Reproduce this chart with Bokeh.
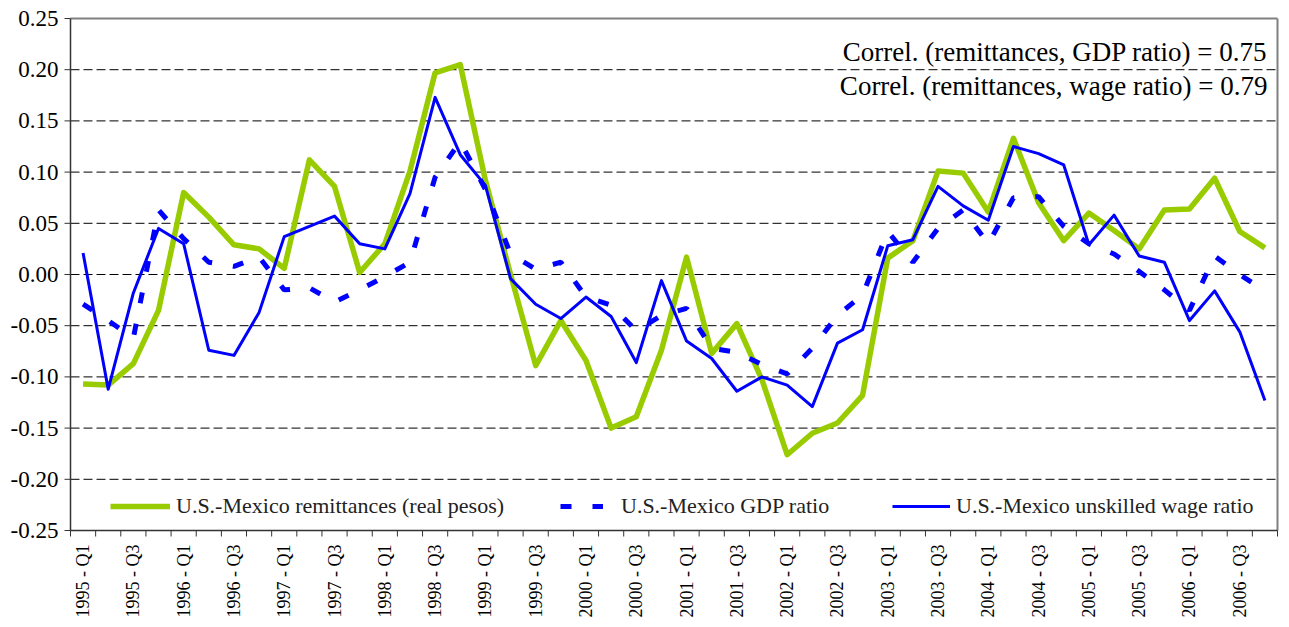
import math
from bokeh.plotting import figure
from bokeh.models import Range1d, Legend, LegendItem, Label
from bokeh.embed import file_html
from bokeh.resources import INLINE

quarters = [
    "1995 - Q1", "1995 - Q2", "1995 - Q3", "1995 - Q4",
    "1996 - Q1", "1996 - Q2", "1996 - Q3", "1996 - Q4",
    "1997 - Q1", "1997 - Q2", "1997 - Q3", "1997 - Q4",
    "1998 - Q1", "1998 - Q2", "1998 - Q3", "1998 - Q4",
    "1999 - Q1", "1999 - Q2", "1999 - Q3", "1999 - Q4",
    "2000 - Q1", "2000 - Q2", "2000 - Q3", "2000 - Q4",
    "2001 - Q1", "2001 - Q2", "2001 - Q3", "2001 - Q4",
    "2002 - Q1", "2002 - Q2", "2002 - Q3", "2002 - Q4",
    "2003 - Q1", "2003 - Q2", "2003 - Q3", "2003 - Q4",
    "2004 - Q1", "2004 - Q2", "2004 - Q3", "2004 - Q4",
    "2005 - Q1", "2005 - Q2", "2005 - Q3", "2005 - Q4",
    "2006 - Q1", "2006 - Q2", "2006 - Q3", "2006 - Q4",
]

remittances = [
    -0.107, -0.108, -0.087, -0.035, 0.080, 0.056, 0.029, 0.025,
    0.006, 0.112, 0.086, 0.002, 0.030, 0.101, 0.197, 0.205,
    0.092, 0.000, -0.089, -0.045, -0.084, -0.150, -0.139, -0.074,
    0.017, -0.077, -0.048, -0.103, -0.176, -0.155, -0.145, -0.118,
    0.016, 0.033, 0.101, 0.099, 0.061, 0.133, 0.070, 0.033,
    0.060, 0.043, 0.025, 0.063, 0.064, 0.094, 0.042, 0.026,
]

gdp_ratio = [
    -0.029, -0.045, -0.062, 0.063, 0.035, 0.012, 0.008, 0.017,
    -0.015, -0.013, -0.027, -0.015, -0.002, 0.012, 0.095, 0.130,
    0.083, 0.020, 0.005, 0.012, -0.022, -0.030, -0.055, -0.040,
    -0.033, -0.072, -0.076, -0.088, -0.097, -0.072, -0.040, -0.020,
    0.042, 0.012, 0.045, 0.063, 0.030, 0.075, 0.076, 0.047,
    0.030, 0.020, 0.003, -0.015, -0.035, 0.018, 0.000, -0.016,
]

wage_ratio = [
    0.021, -0.112, -0.018, 0.045, 0.030, -0.074, -0.079, -0.037,
    0.037, 0.047, 0.057, 0.030, 0.025, 0.079, 0.173, 0.117,
    0.087, -0.004, -0.029, -0.043, -0.022, -0.041, -0.086, -0.006,
    -0.065, -0.082, -0.114, -0.100, -0.108, -0.129, -0.067, -0.054,
    0.028, 0.034, 0.086, 0.067, 0.053, 0.125, 0.118, 0.107,
    0.029, 0.058, 0.018, 0.012, -0.045, -0.016, -0.056, -0.123,
]

y_ticks = [-0.25, -0.20, -0.15, -0.10, -0.05, 0.00, 0.05, 0.10, 0.15, 0.20, 0.25]
y_tick_labels = ["-0.25", "-0.20", "-0.15", "-0.10", "-0.05", "0.00",
                 "0.05", "0.10", "0.15", "0.20", "0.25"]

series_names = [
    "U.S.-Mexico remittances (real pesos)",
    "U.S.-Mexico GDP ratio",
    "U.S.-Mexico unskilled wage ratio",
]
correl_texts = [
    "Correl. (remittances, GDP ratio) = 0.75",
    "Correl. (remittances, wage ratio) = 0.79",
]

SERIF = "Liberation Serif"

# ---- layout (pixels) ----
W, H = 1281, 619
PL, PR, PT, PB = 70, 1277, 18, 530          # plot-area edges on the canvas
n = len(quarters)
x_lo, x_hi = -0.5, n - 0.5                   # category extent
y_lo, y_hi = y_ticks[0], y_ticks[-1]
ppx = (PR - PL) / (x_hi - x_lo)              # px per x unit
ppy = (PB - PT) / (y_hi - y_lo)              # px per y unit

p = figure(
    width=W, height=H,
    output_backend="svg", toolbar_location=None,
    x_range=Range1d(x_lo - PL / ppx, x_hi + (W - PR) / ppx),
    y_range=Range1d(y_lo - (H - PB) / ppy, y_hi + PT / ppy),
    x_axis_location=None, y_axis_location=None,
    min_border=0, min_border_left=0, min_border_right=0,
    min_border_top=0, min_border_bottom=0,
)
p.grid.visible = False
p.background_fill_color = "white"
p.border_fill_color = "white"
p.outline_line_color = None

x = list(range(n))
inner = y_ticks[1:-1]

# horizontal dashed grid lines
p.segment(x0=[x_lo] * len(inner), x1=[x_hi] * len(inner), y0=inner, y1=inner,
          line_color="black", line_width=1, line_dash="9 4")

# plot-area border (top, right) in grey
p.segment(x0=[x_lo, x_hi], x1=[x_hi, x_hi], y0=[y_hi, y_lo], y1=[y_hi, y_hi],
          line_color="#808080", line_width=2)

# axis lines
p.segment(x0=[x_lo, x_lo], x1=[x_lo, x_hi], y0=[y_lo, y_lo], y1=[y_hi, y_lo],
          line_color="#333333", line_width=1.5)

# y ticks (outside, to the left)
tick = 6
p.segment(x0=[x_lo] * len(y_ticks), x1=[x_lo - tick / ppx] * len(y_ticks),
          y0=y_ticks, y1=y_ticks, line_color="#333333", line_width=1)

# x ticks at quarter boundaries (outside, downward)
bounds = [i - 0.5 for i in range(n + 1)]
p.segment(x0=bounds, x1=bounds, y0=[y_lo] * len(bounds),
          y1=[y_lo - tick / ppy] * len(bounds), line_color="#333333", line_width=1)

# y tick labels
for t, lab in zip(y_ticks, y_tick_labels):
    p.add_layout(Label(
        x=x_lo - 12 / ppx, y=t, text=lab,
        text_align="right", text_baseline="middle",
        text_font=SERIF, text_font_size="23px", text_color="black",
    ))

# x tick labels (every other quarter, rotated, reading upward)
label_idx = [i for i, q in enumerate(quarters) if q.endswith("Q1") or q.endswith("Q3")]
for i in label_idx:
    p.add_layout(Label(
        x=i, y=y_lo - 14 / ppy, text=quarters[i],
        angle=math.pi / 2,
        text_align="right", text_baseline="middle",
        text_font=SERIF, text_font_size="18px", text_color="black",
    ))

# series
r1 = p.line(x, remittances, line_color="#99CC00", line_width=5.5, line_join="round")
r2 = p.line(x, gdp_ratio, line_color="#0000FF", line_width=5, line_dash="11 21")
r3 = p.line(x, wage_ratio, line_color="#0000FF", line_width=3, line_join="round")

# legends (three, positioned individually)
legend_specs = [
    (r1, series_names[0], (PL + 40, H - PB + 11), 60, 6),
    (r2, series_names[1], (PL + 490, H - PB + 11), 43, 18),
    (r3, series_names[2], (PL + 822, H - PB + 11), 58, 6),
]
for rend, name, loc, gw, so in legend_specs:
    lg = Legend(
        items=[LegendItem(label=name, renderers=[rend])],
        location=loc,
        orientation="horizontal",
        glyph_width=gw, glyph_height=20,
        label_standoff=so,
        label_text_font=SERIF,
        label_text_font_size="22px",
        label_text_color="#222222",
        padding=0, margin=0, spacing=0,
        background_fill_alpha=0, border_line_alpha=0,
    )
    p.add_layout(lg, "center")

# correlation annotations
for txt, yv in zip(correl_texts, [0.217, 0.184]):
    p.add_layout(Label(
        x=47.1, y=yv, text=txt,
        text_align="right", text_baseline="middle",
        text_font=SERIF, text_font_size="27px", text_color="black",
    ))

open("out.html", "w").write(file_html(p, INLINE))
